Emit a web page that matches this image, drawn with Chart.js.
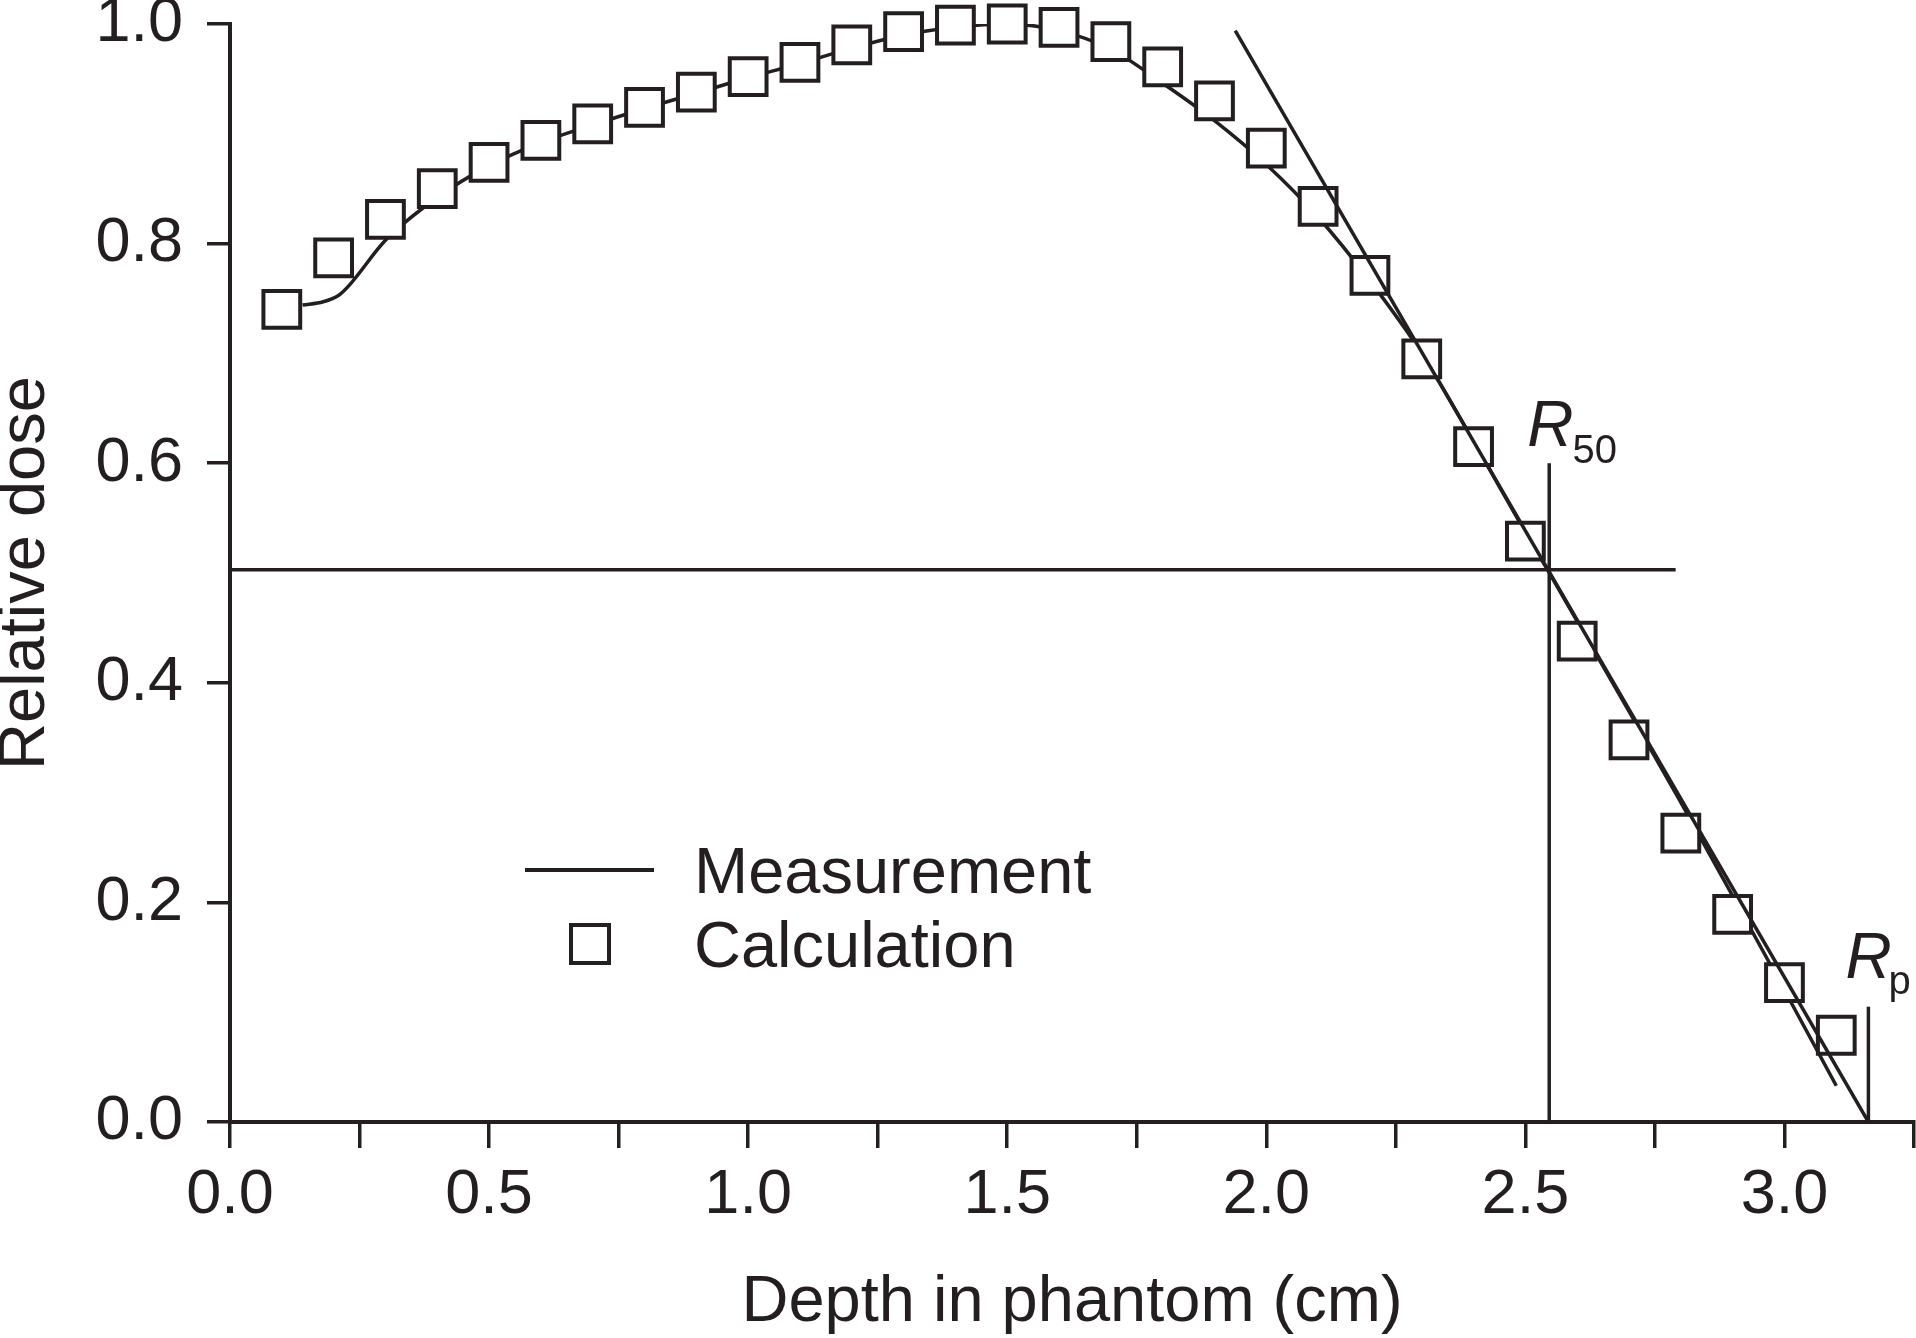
<!DOCTYPE html>
<html>
<head>
<meta charset="utf-8">
<script src="https://cdn.jsdelivr.net/npm/chart.js@4.4.1/dist/chart.umd.min.js"></script>
<style>
  html, body { margin: 0; padding: 0; background: #fff; }
  #wrap { position: relative; width: 1916px; height: 1338px; }
</style>
</head>
<body>
<div id="wrap"><canvas id="pdd"></canvas></div>
<script>
// Depth-dose curve: measured vs calculated, with R50 / Rp construction lines

const INK  = '#231f20'
const FONT = "'Liberation Sans', Arial, Helvetica, sans-serif"

// measured curve (solid line)
const measDepth = [0.14, 0.18, 0.21, 0.23, 0.30, 0.40, 0.50, 0.60, 0.70, 0.80, 0.90, 1.00, 1.10, 1.20, 1.30, 1.40, 1.50, 1.60, 1.70, 1.80, 1.90, 2.00, 2.10, 2.20, 2.30, 2.40, 2.50, 2.55, 2.60, 2.70, 2.80, 2.90, 3.00, 3.10]
const measDose  = [0.744, 0.747, 0.753, 0.762, 0.803, 0.842, 0.871, 0.892, 0.908, 0.923, 0.937, 0.951, 0.964, 0.978, 0.990, 0.997, 1.000, 0.994, 0.977, 0.946, 0.912, 0.872, 0.824, 0.766, 0.700, 0.620, 0.537, 0.497, 0.456, 0.374, 0.291, 0.206, 0.120, 0.033]

// calculated points (open squares)
const calcDepth = [0.1, 0.2, 0.3, 0.4, 0.5, 0.6, 0.7, 0.8, 0.9, 1.0, 1.1, 1.2, 1.3, 1.4, 1.5, 1.6, 1.7, 1.8, 1.9, 2.0, 2.1, 2.2, 2.3, 2.4, 2.5, 2.6, 2.7, 2.8, 2.9, 3.0, 3.1]
const calcDose  = [0.740, 0.787, 0.822, 0.850, 0.874, 0.894, 0.909, 0.924, 0.938, 0.952, 0.965, 0.981, 0.993, 0.999, 1.000, 0.997, 0.984, 0.961, 0.930, 0.887, 0.834, 0.771, 0.695, 0.615, 0.529, 0.438, 0.348, 0.263, 0.189, 0.127, 0.079]

// construction lines
const tangentDepth  = [1.94, 3.162]
const tangentDose   = [0.994, 0.0]
const halfDoseDepth = [0.0, 2.79]
const halfDoseLevel = [0.503, 0.503]
const r50Depth = [2.546, 2.546]
const r50Dose  = [0.0, 0.6]
const rpDepth  = [3.162, 3.162]
const rpDose   = [0.0, 0.105]

const xTickLabels  = ['0.0', '0.5', '1.0', '1.5', '2.0', '2.5', '3.0']
const yTickLabels  = ['0.0', '0.2', '0.4', '0.6', '0.8', '1.0']
const legendLabels = ['Measurement', 'Calculation']

const pts = (xs, ys) => xs.map((x, i) => ({ x, y: ys[i] }))
const refLine = (xs, ys) => ({
  data: pts(xs, ys), borderColor: INK, borderWidth: 3.5, pointRadius: 0, tension: 0, order: 1,
})

// legend + R labels drawn on top of the plot
const overlay = {
  id: 'overlay',
  afterDatasetsDraw(chart) {
    const { ctx, chartArea: a, scales: { x, y } } = chart
    ctx.save()
    ctx.fillStyle = INK
    ctx.strokeStyle = INK
    ctx.textBaseline = 'alphabetic'
    ctx.textAlign = 'left'

    // legend
    const lx = a.left, ly = a.top
    ctx.lineWidth = 4
    ctx.beginPath()
    ctx.moveTo(lx + 295, ly + 846)
    ctx.lineTo(lx + 424, ly + 846)
    ctx.stroke()
    ctx.fillStyle = '#fff'
    ctx.fillRect(lx + 360 - 19, ly + 920 - 19, 38, 38)
    ctx.strokeRect(lx + 360 - 19, ly + 920 - 19, 38, 38)
    ctx.fillStyle = INK
    ctx.font = `65px ${FONT}`
    ctx.fillText(legendLabels[0], lx + 464, ly + 869)
    ctx.fillText(legendLabels[1], lx + 464, ly + 943)

    // R50
    let px = x.getPixelForValue(r50Depth[1])
    let py = y.getPixelForValue(r50Dose[1])
    ctx.font = `italic 64px ${FONT}`
    let w = ctx.measureText('R').width
    ctx.fillText('R', px - 22, py - 17)
    ctx.font = `40px ${FONT}`
    ctx.fillText('50', px - 22 + w - 1, py)

    // Rp
    px = x.getPixelForValue(rpDepth[1])
    py = y.getPixelForValue(rpDose[1])
    ctx.font = `italic 64px ${FONT}`
    w = ctx.measureText('R').width
    ctx.fillText('R', px - 23, py - 29)
    ctx.font = `40px ${FONT}`
    ctx.fillText('p', px - 23 + w - 3, py - 13)
    ctx.restore()
  }
}

new Chart(document.getElementById('pdd'), {
  type: 'line',
  data: {
    datasets: [
      { label: legendLabels[0], data: pts(measDepth, measDose), borderColor: INK, borderWidth: 3.5,
        pointRadius: 0, cubicInterpolationMode: 'monotone', order: 3 },
      { label: legendLabels[1], data: pts(calcDepth, calcDose), showLine: false, pointStyle: 'rect',
        pointRadius: 26, pointBorderWidth: 4, pointBorderColor: INK, pointBackgroundColor: '#fff',
        clip: false, order: 2 },
      refLine(tangentDepth, tangentDose),
      refLine(halfDoseDepth, halfDoseLevel),
      refLine(r50Depth, r50Dose),
      refLine(rpDepth, rpDose),
    ]
  },
  options: {
    responsive: true, maintainAspectRatio: false, animation: false,
    layout: { autoPadding: false, padding: { top: 24, right: 2, left: 0, bottom: 0 } },
    plugins: { legend: { display: false }, tooltip: { enabled: false } },
    scales: {
      x: {
        type: 'linear', min: 0, max: 3.25,
        border: { display: true, color: INK, width: 4 },
        grid: { drawOnChartArea: false, drawTicks: true, tickLength: 26, lineWidth: 3.5, color: INK },
        ticks: {
          stepSize: 0.25, autoSkip: false, maxRotation: 0, padding: 10, color: INK,
          font: { family: FONT, size: 63 },
          callback: v => Math.abs(v * 2 - Math.round(v * 2)) < 1e-6 ? (xTickLabels[Math.round(v * 2)] ?? '') : '',
        },
        title: { display: true, text: 'Depth in phantom (cm)', color: INK, font: { family: FONT, size: 65, lineHeight: 1.08 }, padding: 0 },
        afterFit: s => { s.height = 216; s.paddingLeft = 0; s.paddingRight = 0 },
      },
      y: {
        min: 0, max: 1,
        border: { display: true, color: INK, width: 4 },
        grid: { drawOnChartArea: false, drawTicks: true, tickLength: 23, lineWidth: 3.5, color: INK },
        ticks: {
          stepSize: 0.2, padding: 24, color: INK,
          font: { family: FONT, size: 63 },
          callback: v => yTickLabels[Math.round(v * 5)] ?? '',
        },
        title: { display: true, text: 'Relative dose', color: INK, font: { family: FONT, size: 65, lineHeight: 0.8 }, padding: 0 },
        afterFit: s => { s.width = 230; s.paddingTop = 0; s.paddingBottom = 0 },
      },
    },
  },
  plugins: [overlay],
})
</script>
</body>
</html>
